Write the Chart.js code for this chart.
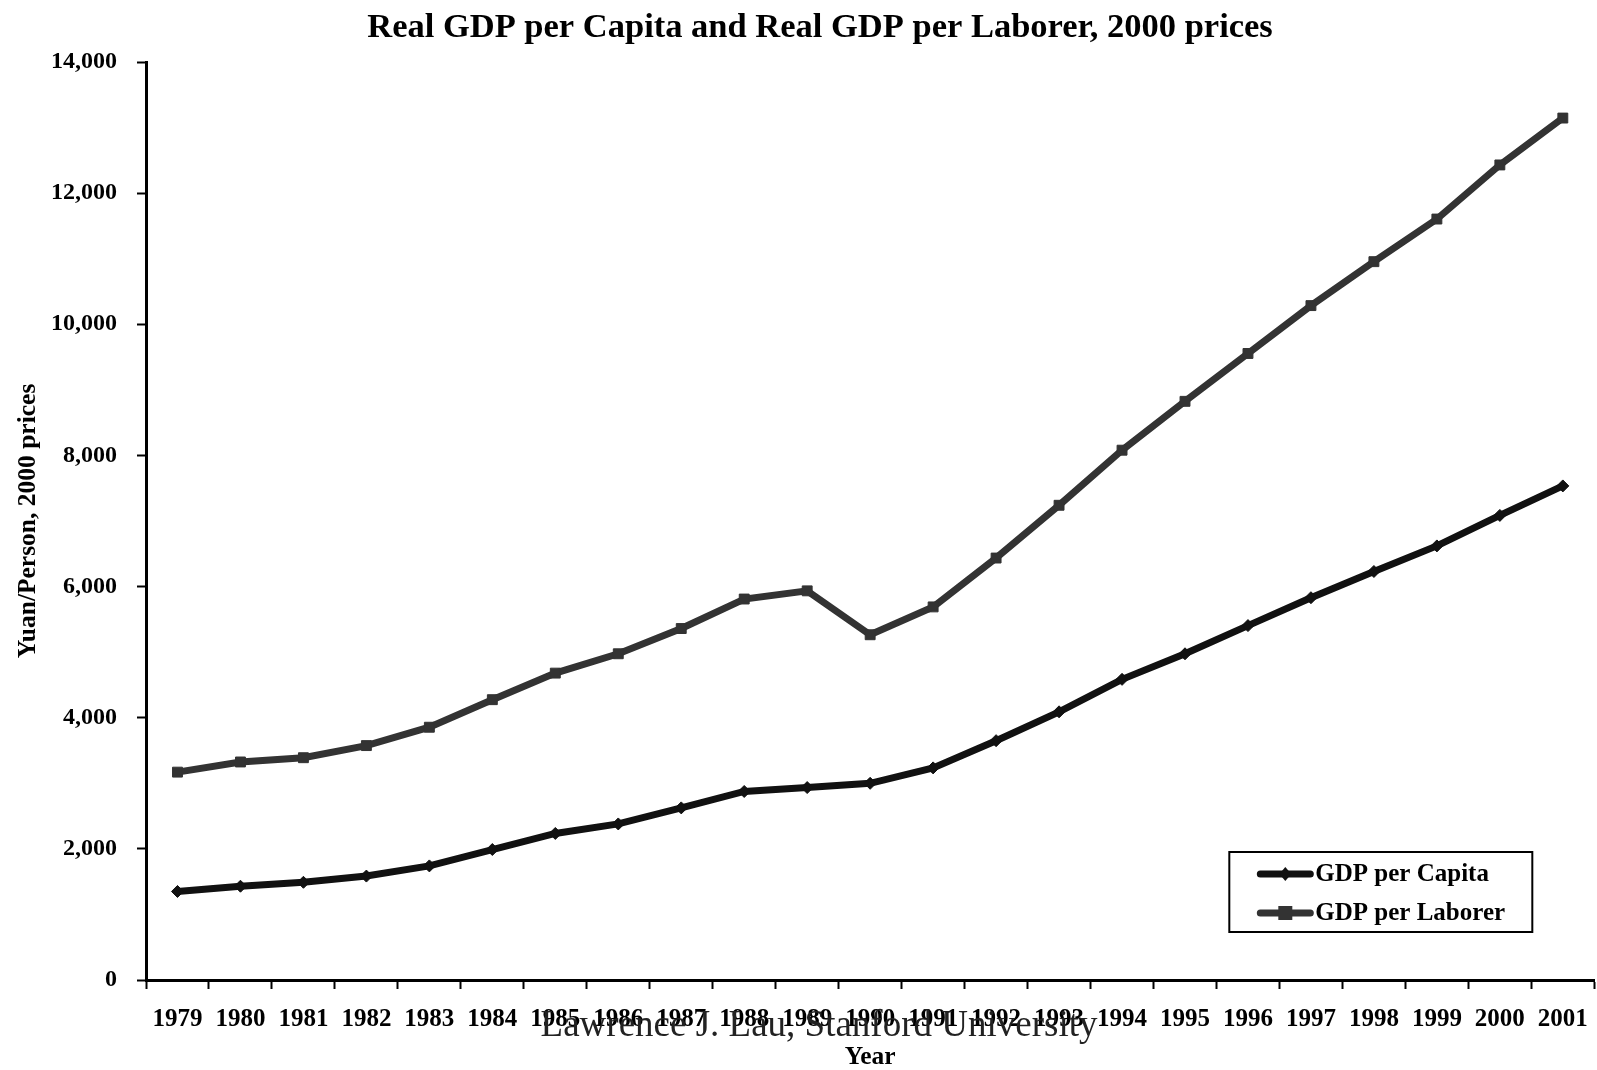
<!DOCTYPE html>
<html>
<head>
<meta charset="utf-8">
<script src="https://cdn.jsdelivr.net/npm/chart.js@4/dist/chart.umd.min.js"></script>
<style>
  body { margin: 0; background: #fff; overflow: hidden; }
  /* un poco más ancho que la ventana: Chart.js deja un margen a la derecha por la última etiqueta */
  #wrap { width: 1604px; height: 1070px; position: relative; }
</style>
</head>
<body>
<div id="wrap"><canvas id="gdpChart"></canvas></div>
<script>
  // Datos (yuan por persona, precios de 2000)
  const years = ['1979', '1980', '1981', '1982', '1983', '1984', '1985', '1986', '1987', '1988', '1989', '1990',
                 '1991', '1992', '1993', '1994', '1995', '1996', '1997', '1998', '1999', '2000', '2001'];
  const gdpPerCapita = [1350, 1430, 1490, 1585, 1740, 1990, 2235, 2380, 2625, 2875, 2935, 3000,
                        3235, 3650, 4090, 4585, 4975, 5405, 5830, 6230, 6620, 7085, 7535];
  const gdpPerLaborer = [3170, 3325, 3390, 3575, 3855, 4275, 4680, 4975, 5360, 5810, 5935, 5265,
                         5690, 6435, 7240, 8080, 8825, 9555, 10285, 10955, 11605, 12430, 13145];
  const yTicks = [0, 2000, 4000, 6000, 8000, 10000, 12000, 14000];

  const serif = "'Liberation Serif', 'Times New Roman', serif";

  // Título, pie de página y leyenda dibujados a mano
  const extras = {
    id: 'extras',
    afterDraw(chart) {
      const ctx = chart.ctx;
      const area = chart.chartArea;
      ctx.save();
      ctx.fillStyle = '#000';
      ctx.textAlign = 'center';
      ctx.textBaseline = 'alphabetic';
      ctx.font = 'bold 34.5px ' + serif;
      ctx.fillText('Real GDP per Capita and Real GDP per Laborer, 2000 prices', 820, 37);

      // leyenda
      const bx = area.right - 62 - 303, by = area.bottom - 48 - 80;
      ctx.fillStyle = '#fff';
      ctx.fillRect(bx, by, 303, 80);
      ctx.strokeStyle = '#000';
      ctx.lineWidth = 2;
      ctx.strokeRect(bx, by, 303, 80);
      chart.data.datasets.forEach((ds, i) => {
        const y = by + 22 + i * 39;
        ctx.strokeStyle = ds.borderColor;
        ctx.lineWidth = 7;
        ctx.lineCap = 'round';
        ctx.beginPath();
        ctx.moveTo(bx + 31, y);
        ctx.lineTo(bx + 81, y);
        ctx.stroke();
        ctx.fillStyle = ds.borderColor;
        if (ds.pointStyle === 'rect') {
          ctx.fillRect(bx + 56 - 7, y - 7, 14, 14);
        } else {
          ctx.beginPath();
          ctx.moveTo(bx + 56, y - 7);
          ctx.lineTo(bx + 62, y);
          ctx.lineTo(bx + 56, y + 7);
          ctx.lineTo(bx + 50, y);
          ctx.closePath();
          ctx.fill();
        }
        ctx.fillStyle = '#000';
        ctx.textAlign = 'left';
        ctx.textBaseline = 'middle';
        ctx.font = 'bold 25px ' + serif;
        ctx.fillText(ds.label, bx + 86, y + 1);
      });

      // pie de página
      ctx.fillStyle = '#222';
      ctx.textAlign = 'center';
      ctx.textBaseline = 'alphabetic';
      ctx.font = '37px ' + serif;
      ctx.fillText('Lawrence J. Lau, Stanford University', 819, 1036);
      ctx.restore();
    }
  };

  new Chart(document.getElementById('gdpChart'), {
    type: 'line',
    data: {
      labels: years,
      datasets: [
        {
          label: 'GDP per Capita',
          data: gdpPerCapita,
          borderColor: '#111111',
          backgroundColor: '#111111',
          borderWidth: 7,
          pointStyle: 'rectRot',
          pointRadius: 6,
          pointBorderWidth: 1,
          tension: 0
        },
        {
          label: 'GDP per Laborer',
          data: gdpPerLaborer,
          borderColor: '#333333',
          backgroundColor: '#333333',
          borderWidth: 7,
          pointStyle: 'rect',
          pointRadius: 7,
          pointBorderWidth: 1,
          tension: 0
        }
      ]
    },
    options: {
      responsive: true,
      maintainAspectRatio: false,
      animation: false,
      layout: { padding: { top: 62, right: 1, left: 0, bottom: 0 } },
      plugins: {
        legend: { display: false },
        tooltip: { enabled: false }
      },
      scales: {
        x: {
          offset: true,
          grid: { offset: true, drawOnChartArea: false, drawTicks: true, tickLength: 9, tickWidth: 2, tickColor: '#000' },
          border: { display: true, color: '#000', width: 3 },
          ticks: { color: '#000', font: { family: serif, size: 25, weight: 'bold' }, padding: 16, maxRotation: 0, autoSkip: false },
          title: { display: true, text: 'Year', color: '#000', font: { family: serif, size: 25.5, weight: 'bold', lineHeight: 1 }, padding: { top: 0, bottom: 0 } },
          afterFit(scale) { scale.height = 90; }
        },
        y: {
          min: 0,
          max: 14000,
          afterBuildTicks(scale) { scale.ticks = yTicks.map(v => ({ value: v })); },
          grid: { drawOnChartArea: false, drawTicks: true, tickLength: 9, tickWidth: 2, tickColor: '#000' },
          border: { display: true, color: '#000', width: 3 },
          ticks: {
            color: '#000',
            font: { family: serif, size: 24, weight: 'bold' },
            padding: 20,
            callback: v => v.toLocaleString('en-US')
          },
          title: { display: true, text: 'Yuan/Person, 2000 prices', color: '#000', font: { family: serif, size: 25.5, weight: 'bold', lineHeight: 1.2 }, padding: { top: 13, bottom: 0 } },
          afterFit(scale) { scale.width = 146; }
        }
      }
    },
    plugins: [extras]
  });
</script>
</body>
</html>
